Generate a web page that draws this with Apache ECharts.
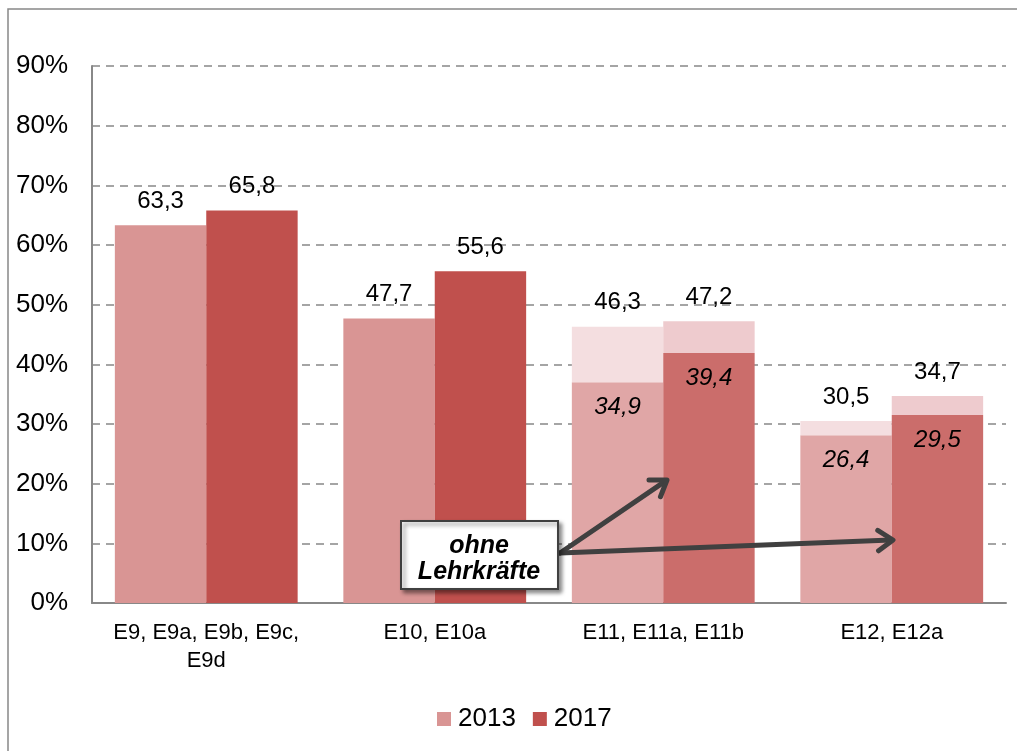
<!DOCTYPE html>
<html>
<head>
<meta charset="utf-8" />
<title></title>
<script src="https://cdn.jsdelivr.net/npm/echarts@6/dist/echarts.min.js"></script>
<style>
html, body { margin: 0; padding: 0; background: #fff; }
#chart { width: 1017px; height: 751px; }
</style>
</head>
<body>
<div id="chart"></div>
<script type="text/javascript">
// categories and values
var categories = ['E9, E9a, E9b, E9c,\nE9d', 'E10, E10a', 'E11, E11a, E11b', 'E12, E12a'];
var years = ['2013', '2017'];
var total2013 = [63.3, 47.7, 46.3, 30.5];
var total2017 = [65.8, 55.6, 47.2, 34.7];
// "ohne Lehrkräfte" share: printed value and drawn height of the lower segment
var ohne2013 = [null, null, 34.9, 26.4];
var ohne2017 = [null, null, 39.4, 29.5];
var ohneBar2013 = [null, null, 37.0, 28.1];
var ohneBar2017 = [null, null, 41.9, 31.5];
var yTicks = [0, 10, 20, 30, 40, 50, 60, 70, 80, 90];

var FONT = '"Liberation Sans", Arial, sans-serif';
var colors = {
	'2013': { full: '#d99594', low: '#e0a6a6', high: '#f4dee0' },
	'2017': { full: '#c0504d', low: '#cb6d6b', high: '#eecbce' }
};

function fmt(v) {
	return v.toFixed(1).replace('.', ',');
}

function buildSeries(year, total, ohne, ohneBar) {
	var c = colors[year];
	var low = [], high = [];
	for (var i = 0; i < total.length; i++) {
		if (ohneBar[i] == null) {
			low.push({ value: total[i], itemStyle: { color: c.full },
				label: { show: false } });
			high.push({ value: 0, itemStyle: { color: c.high },
				label: { show: true, formatter: fmt(total[i]) } });
		} else {
			low.push({ value: ohneBar[i], itemStyle: { color: c.low },
				label: { show: true, formatter: fmt(ohne[i]) } });
			high.push({ value: +(total[i] - ohneBar[i]).toFixed(1), itemStyle: { color: c.high },
				label: { show: true, formatter: fmt(total[i]) } });
		}
	}
	return [ {
		name : year,
		type : 'bar',
		stack : year,
		barCategoryGap : '20%',
		barGap : '0%',
		itemStyle : { color : c.full },
		label : {
			position : 'insideTop',
			distance : 13,
			fontFamily : FONT,
			fontSize : 24,
			fontStyle : 'italic',
			color : '#000'
		},
		data : low
	}, {
		name : year + '_top',
		type : 'bar',
		stack : year,
		barCategoryGap : '20%',
		barGap : '0%',
		label : {
			position : 'top',
			distance : 12,
			fontFamily : FONT,
			fontSize : 24,
			color : '#000'
		},
		data : high
	} ];
}

var myChart = echarts.init(document.getElementById('chart'));
var series = buildSeries('2013', total2013, ohne2013, ohneBar2013)
	.concat(buildSeries('2017', total2017, ohne2017, ohneBar2017));

myChart.setOption({
	animation : false,
	textStyle : { fontFamily : FONT },
	grid : {
		left : 92,
		right : 11,
		top : 66,
		bottom : 148
	},
	legend : {
		data : [
			{ name : '2013', itemStyle : { color : colors['2013'].full } },
			{ name : '2017', itemStyle : { color : colors['2017'].full } }
		],
		left : 432,
		top : 701,
		icon : 'rect',
		itemWidth : 14,
		itemHeight : 14,
		itemGap : 17,
		textStyle : { fontFamily : FONT, fontSize : 26, color : '#000', padding : [0, 0, 0, 2] }
	},
	xAxis : [ {
		type : 'category',
		data : categories,
		axisLine : { lineStyle : { color : '#888', width : 2 } },
		axisTick : { show : false },
		axisLabel : {
			interval : 0,
			margin : 16,
			fontFamily : FONT,
			fontSize : 22,
			lineHeight : 28,
			color : '#000',
			align : 'center'
		}
	} ],
	yAxis : [ {
		type : 'value',
		min : yTicks[0],
		max : yTicks[yTicks.length - 1],
		interval : 10,
		axisLine : { show : true, lineStyle : { color : '#888', width : 2 } },
		axisTick : { show : false },
		axisLabel : {
			margin : 24,
			fontFamily : FONT,
			fontSize : 26,
			color : '#000',
			formatter : '{value}%'
		},
		splitLine : {
			show : true,
			lineStyle : { color : '#888', width : 1.5, type : [8, 6] }
		}
	} ],
	series : series
});

// annotation: box and arrows
function arrow(x1, y1, x2, y2) {
	var dx = x2 - x1, dy = y2 - y1;
	var len = Math.sqrt(dx * dx + dy * dy);
	var ux = dx / len, uy = dy / len;
	var h = 18, a = 0.6;
	var ca = Math.cos(a), sa = Math.sin(a);
	var b1 = [x2 - h * (ux * ca - uy * sa), y2 - h * (uy * ca + ux * sa)];
	var b2 = [x2 - h * (ux * ca + uy * sa), y2 - h * (uy * ca - ux * sa)];
	return [ {
		type : 'line',
		shape : { x1 : x1, y1 : y1, x2 : x2 - ux * 2, y2 : y2 - uy * 2 },
		style : { stroke : '#404040', lineWidth : 5, lineCap : 'round' },
		z : 100
	}, {
		type : 'polyline',
		shape : { points : [b1, [x2, y2], b2] },
		style : { stroke : '#404040', lineWidth : 5, lineCap : 'round', lineJoin : 'round', fill : null },
		z : 100
	} ];
}

var graphics = [ {
	type : 'rect',
	shape : { x : 8, y : 9, width : 1030, height : 780 },
	style : { fill : null, stroke : '#888', lineWidth : 1.5 },
	silent : true,
	z : -10
}, {
	type : 'rect',
	shape : { x : 401, y : 521, width : 157, height : 68 },
	style : { fill : '#fff', stroke : '#404040', lineWidth : 2,
		shadowBlur : 4, shadowOffsetX : 3, shadowOffsetY : 3, shadowColor : 'rgba(0,0,0,0.45)' },
	z : 101
}, {
	type : 'text',
	x : 479,
	y : 559,
	style : {
		text : 'ohne\nLehrkräfte',
		font : 'italic bold 25px ' + FONT,
		lineHeight : 26,
		fill : '#000',
		align : 'center',
		verticalAlign : 'middle'
	},
	z : 102
} ];
graphics = graphics.concat(arrow(560, 553, 667, 480)).concat(arrow(560, 553, 893, 540));
myChart.setOption({ graphic : graphics });
</script>
</body>
</html>
